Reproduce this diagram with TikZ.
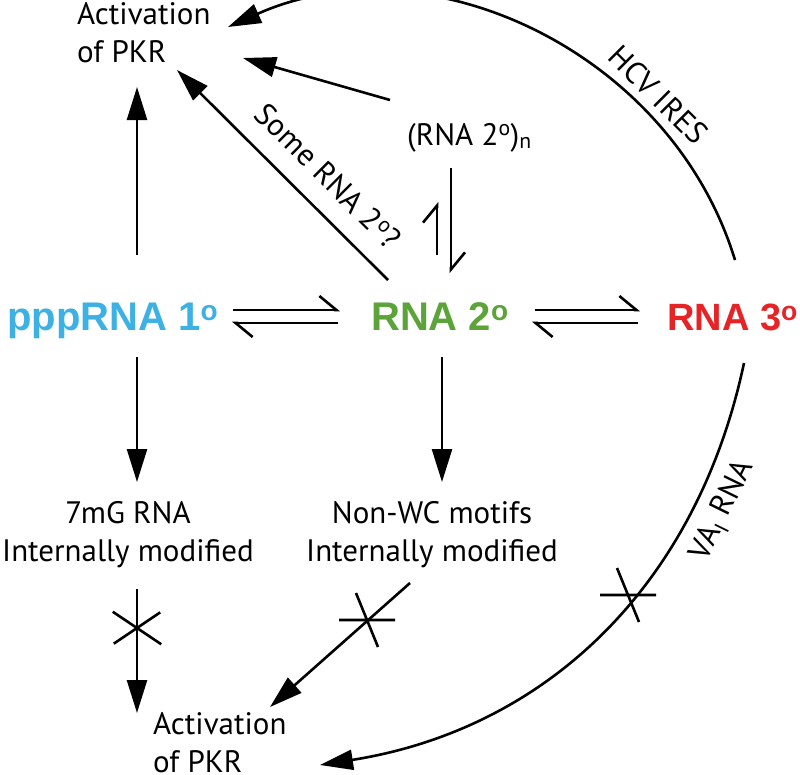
\documentclass[tikz,border=0pt]{standalone}
\usepackage{fontspec}
\setmainfont{PT Sans}
\newfontfamily\labelfont{Liberation Sans}
\usetikzlibrary{arrows.meta}
\definecolor{pppblue}{RGB}{62,177,228}
\definecolor{rnagreen}{RGB}{92,164,58}
\definecolor{rnared}{RGB}{230,36,40}
\tikzset{
  txt/.style={inner sep=0pt, font=\fontsize{31}{38}\selectfont},
  big/.style={inner sep=0pt, font=\labelfont\bfseries\fontsize{40}{48}\selectfont},
  arr/.style={-{Triangle[length=33pt,width=20pt]}, line width=2.6pt},
  harp/.style={-{Straight Barb[left,length=17pt,width=28pt]}, line width=2.6pt},
  nogo/.pic={\draw[line width=2.6pt] (-28,0) -- (28,0) (-11,27) -- (11,-27);}
}
\begin{document}
\begin{tikzpicture}[x=1pt,y=1pt]
\useasboundingbox (0,0) rectangle (800,-774);
\coordinate (c1) at (137,0);
\coordinate (c2) at (442,0);
% text
\node[txt, align=left, anchor=north west] (act1) at (77,-2) {Activation\\of PKR};
\node[txt, align=left, anchor=north west] (act2) at (153,-712) {Activation\\of PKR};
\node[big, text=pppblue, anchor=base west] (ppp) at (7,-330) {pppRNA 1\textsuperscript{o}};
\node[big, text=rnagreen, anchor=base west] (rna2) at (371,-330) {RNA 2\textsuperscript{o}};
\node[big, text=rnared, anchor=base west, font=\labelfont\bfseries\fontsize{38}{46}\selectfont] (rna3) at (667,-330) {RNA 3\textsuperscript{o}};
\node[txt, anchor=base west] (rna2n) at (407,-145) {(RNA 2\textsuperscript{o})\textsubscript{n}};
\node[txt, align=center, anchor=north] (mg) at (128,-501) {7mG RNA\\Internally modified};
\node[txt, align=center, anchor=north] (nonwc) at (432,-501) {Non-WC motifs\\Internally modified};
% arrows
\draw[arr] ([yshift=75pt]ppp.base -| c1) -- ([yshift=-85pt]act1.north west -| c1);
\draw[arr] ([yshift=-27pt]ppp.base -| c1) -- ([yshift=19pt]mg.north -| c1);
\draw[arr] ([yshift=-88pt]mg.north -| c1) -- ([yshift=-1pt]act2.north west -| c1);
\draw[arr] ([yshift=-27pt]rna2.base -| c2) -- ([yshift=19pt]nonwc.north -| c2);
\draw[arr] ([shift={(-22pt,-82pt)}]nonwc.north) -- ([shift={(117pt,5pt)}]act2.north west);
\draw[arr] ([shift={(77pt,-33pt)}]rna3.base west) to[out=-102, in=9]
  node[txt, pos=0.22, sloped, below=12pt] (va) {VA\textsubscript{I} RNA}
  ([shift={(167pt,-53pt)}]act2.north west);
\draw[arr] ([shift={(68pt,70pt)}]rna3.base west) to[out=107, in=24]
  node[txt, pos=0.28, sloped, above=8pt] (hcv) {HCV IRES}
  ([shift={(151pt,-25pt)}]act1.north west);
\draw[arr] ([shift={(-17pt,45pt)}]rna2n.base west) -- ([shift={(166pt,-56pt)}]act1.north west);
\draw[arr] ([shift={(17pt,50pt)}]rna2.base west) --
  node[txt, pos=0.39, sloped, above=19pt] (some) {Some RNA 2\textsuperscript{o}?}
  ([shift={(100pt,-68pt)}]act1.north west);
% equilibria
\draw[harp] ([shift={(44pt,-23pt)}]rna2n.base west) -- ([shift={(80pt,57pt)}]rna2.base west);
\draw[harp] ([shift={(66pt,75pt)}]rna2.base west) -- ([shift={(30pt,-57pt)}]rna2n.base west);
\draw[harp] ([shift={(226pt,20pt)}]ppp.base west) -- ([shift={(-31pt,20pt)}]rna2.base west);
\draw[harp] ([shift={(-33pt,7pt)}]rna2.base west) -- ([shift={(225pt,7pt)}]ppp.base west);
\draw[harp] ([shift={(164pt,20pt)}]rna2.base west) -- ([shift={(-27pt,20pt)}]rna3.base west);
\draw[harp] ([shift={(-29pt,7pt)}]rna3.base west) -- ([shift={(161pt,7pt)}]rna2.base west);
% blocked
\pic[rotate=34] at (137,-628) {nogo};
\pic at (367,-620) {nogo};
\pic at (628,-595) {nogo};
\end{tikzpicture}
\end{document}
